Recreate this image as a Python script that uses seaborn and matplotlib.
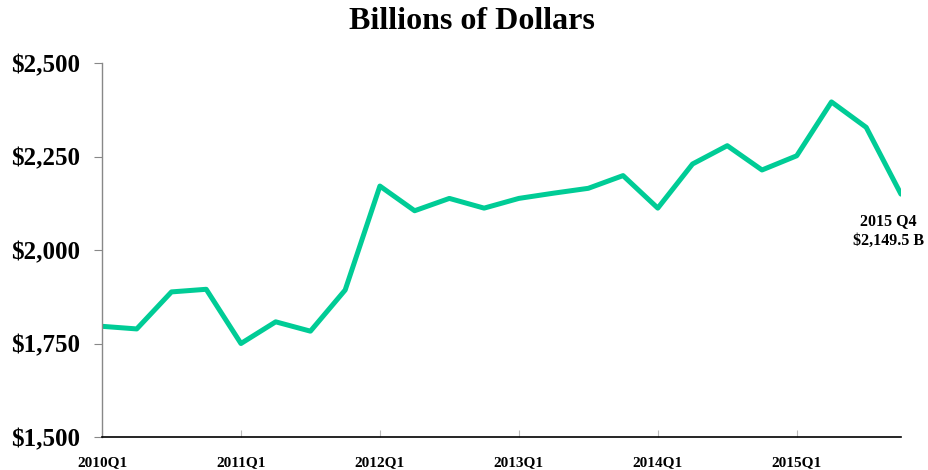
import pandas as pd
import matplotlib
matplotlib.use("Agg")
import matplotlib.pyplot as plt
import seaborn as sns

# Quarterly values, billions of dollars
quarters = [f"{y}Q{q}" for y in range(2010, 2016) for q in range(1, 5)]
values = [1796, 1789, 1888, 1895,
          1750, 1808, 1783, 1893,
          2171, 2105, 2138, 2112,
          2138, 2152, 2165, 2199,
          2112, 2230, 2279, 2214,
          2252, 2396, 2328, 2149.5]
y_ticks = [1500, 1750, 2000, 2250, 2500]
last_label = "2015 Q4\n$2,149.5 B"

df = pd.DataFrame({"quarter": quarters, "value": values})
df["idx"] = range(len(df))

sns.set_style("white")
plt.rcParams["font.family"] = ["Liberation Serif", "DejaVu Serif"]
plt.rcParams["font.weight"] = "bold"
plt.rcParams["text.color"] = "black"
plt.rcParams["xtick.labelcolor"] = "black"
plt.rcParams["ytick.labelcolor"] = "black"

fig = plt.figure(figsize=(9.29, 4.70), dpi=100)
ax = fig.add_axes([0.1098, 0.0702, 0.860, 0.7957])

sns.lineplot(data=df, x="idx", y="value", color="#00CC96", linewidth=3.6, ax=ax)

ax.set_xlim(0, len(df) - 1)
ax.set_ylim(1500, 2500)
ax.set_yticks(y_ticks)
ax.set_yticklabels([f"${v:,}" for v in y_ticks], fontsize=18, fontweight="bold")
xt = list(range(0, len(df), 4))
ax.set_xticks(xt)
ax.set_xticklabels([quarters[i] for i in xt], fontsize=11, fontweight="bold")
ax.set_xlabel("")
ax.set_ylabel("")

for s in ["top", "right"]:
    ax.spines[s].set_visible(False)
ax.spines["left"].set_color("#888888")
ax.spines["left"].set_linewidth(1)
ax.spines["bottom"].set_color("black")
ax.spines["bottom"].set_linewidth(1.2)

ax.tick_params(axis="y", direction="out", length=6, color="#888888", left=True, pad=10)
ax.tick_params(axis="x", direction="in", length=5, color="#bbbbbb", bottom=True, pad=14)

ax.annotate(last_label, xy=(df["idx"].iloc[-1], df["value"].iloc[-1]),
            xytext=(-9, -14), textcoords="offset points",
            ha="center", va="top", fontsize=11.5, fontweight="bold",
            linespacing=1.3)

fig.suptitle("Billions of Dollars", x=0.508, fontsize=23, fontweight="bold", y=0.985)

fig.savefig("out.png", dpi=100)
